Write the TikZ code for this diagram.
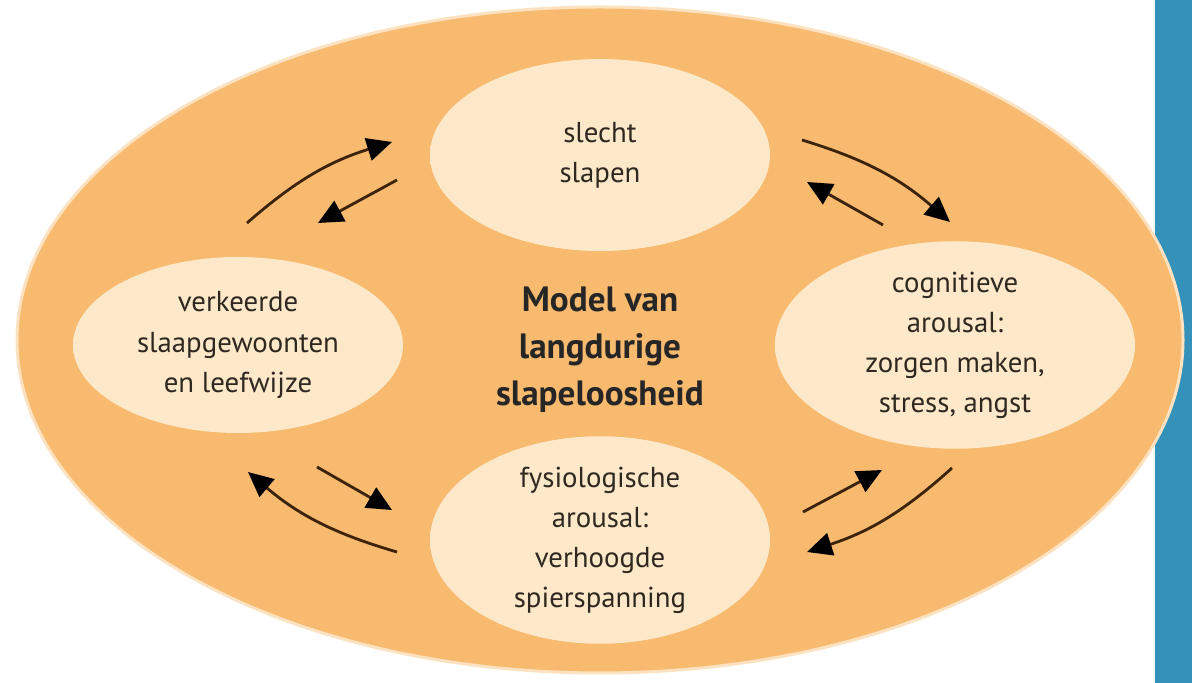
\documentclass[tikz,border=0pt]{standalone}
\usepackage{fontspec}
\setmainfont{PT Sans}
\usetikzlibrary{shapes.geometric,arrows.meta}
\definecolor{bgorange}{RGB}{248,186,110}
\definecolor{rimpale}{RGB}{252,226,192}
\definecolor{incream}{RGB}{251,222,176}
\definecolor{inlight}{RGB}{253,233,202}
\definecolor{barblue}{RGB}{52,146,186}
\definecolor{arrowline}{RGB}{60,35,12}
\definecolor{textgray}{RGB}{48,40,32}
\pgfdeclareradialshading{softell}{\pgfpoint{0bp}{0bp}}{color(0bp)=(inlight); color(32bp)=(inlight); color(43bp)=(incream); color(50bp)=(bgorange); color(70bp)=(bgorange)}
\tikzset{
  state/.style={ellipse, shade, shading=softell, inner sep=0pt, align=center,
    text=textgray, font=\fontsize{16.4}{22.8}\selectfont},
  flow/.style={-{Triangle[length=5mm,width=4.6mm,color=black]}, draw=arrowline, line width=1.6pt},
}
\begin{document}
\begin{tikzpicture}
	\useasboundingbox[fill=white] (0,0) rectangle (23.84,13.66);
	\fill[barblue] (23.1,0) rectangle (23.84,13.66);
	\draw[fill=bgorange, draw=rimpale, line width=0.06cm] (12,6.86) ellipse (11.66 and 6.66);
	% de vier toestanden
	\node[state, minimum width=6.8cm, minimum height=3.84cm] (sleep) at (12,10.56) {slecht\\slapen};
	\node[state, minimum width=6.6cm, minimum height=3.52cm] (habits) at (4.76,6.76) {verkeerde\\slaapgewoonten\\en leefwijze};
	\node[state, minimum width=7.2cm, minimum height=3.8cm] (cogn) at (19.1,6.76) {cognitieve\\arousal:\\zorgen maken,\\stress, angst};
	\node[state, minimum width=6.8cm, minimum height=3.88cm] (phys) at (12,2.86) {fysiologische\\arousal:\\verhoogde\\spierspanning};
	\node[align=center, text=black!85, font=\fontsize{20}{26.8}\selectfont\bfseries] (model) at (12,6.66) {Model van\\langdurige\\slapeloosheid};
	% pijlen
	\coordinate (a1) at (4.94,9.20);  \coordinate (b1) at (7.84,10.82);
	\coordinate (a2) at (7.94,10.06); \coordinate (b2) at (6.36,9.20);
	\coordinate (a3) at (16.04,10.86); \coordinate (b3) at (19.0,9.22);
	\coordinate (a4) at (17.66,9.16); \coordinate (b4) at (16.14,10.02);
	\coordinate (a5) at (19.04,4.30); \coordinate (b5) at (16.14,2.62);
	\coordinate (a6) at (16.06,3.42); \coordinate (b6) at (17.64,4.26);
	\coordinate (a7) at (7.94,2.62);  \coordinate (b7) at (4.96,4.22);
	\coordinate (a8) at (6.34,4.32);  \coordinate (b8) at (7.84,3.46);
	\foreach \i in {1,3,5,7} {
	\draw[flow] (a\i) to[bend left=12] (b\i);
	}
	\foreach \i in {2,4,6,8} {
	\draw[flow] (a\i) -- (b\i);
	}
\end{tikzpicture}
\end{document}
